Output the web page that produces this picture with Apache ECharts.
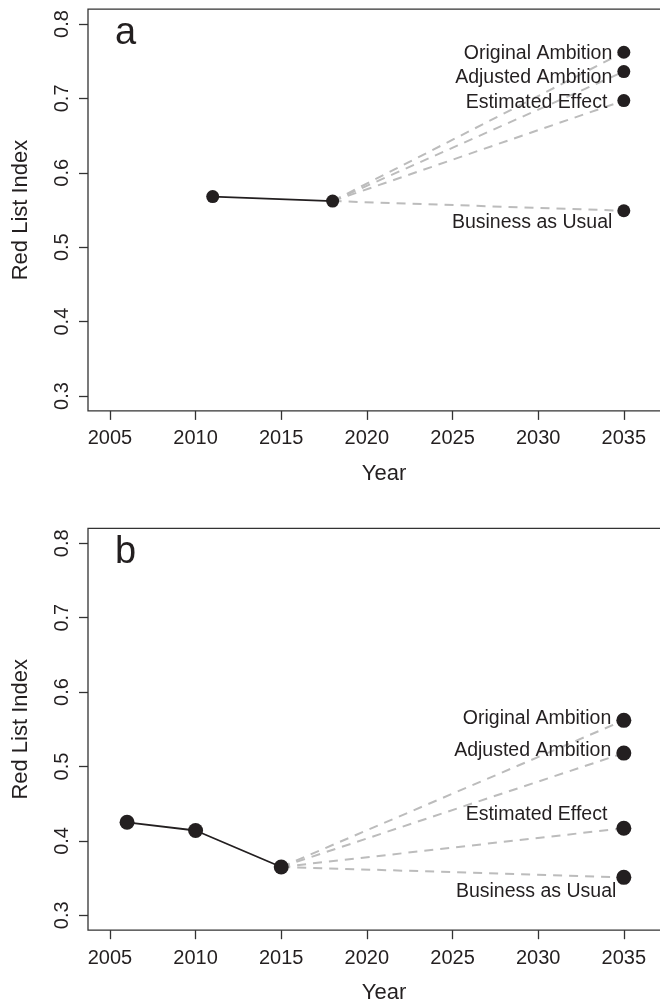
<!DOCTYPE html>
<html>
<head>
<meta charset="utf-8">
<script src="https://cdn.jsdelivr.net/npm/echarts@6/dist/echarts.min.js"></script>
<style>
  html, body { margin: 0; padding: 0; background: #ffffff; }
  #chart { width: 660px; height: 1007px; }
</style>
</head>
<body>
<div id="chart"></div>
<script>
// Tick labels
const yearTicks = [2005, 2010, 2015, 2020, 2025, 2030, 2035];
const indexTicks = [0.3, 0.4, 0.5, 0.6, 0.7, 0.8];

// Scenario projections to the target year
const scenarioNames = ['Original Ambition', 'Adjusted Ambition', 'Estimated Effect', 'Business as Usual'];
const targetYear = 2035;

// Panel a: observed Red List Index and scenario end values
const yearsA = [2011, 2018];
const rliA = [0.568, 0.562];
const scenarioA = [0.762, 0.736, 0.697, 0.549];

// Panel b: observed Red List Index and scenario end values
const yearsB = [2006, 2010, 2015];
const rliB = [0.425, 0.414, 0.365];
const scenarioB = [0.562, 0.518, 0.417, 0.351];

const INK = '#231f20';
const FONT = '"Liberation Sans", Arial, Helvetica, sans-serif';

// Axis extents (4% padding around the tick range, as in base R plots)
const X_MIN = 2003.72, X_MAX = 2038.28;
const Y_MIN = 0.28, Y_MAX = 0.82;

// Per-label nudges [dx, dy] for the scenario labels
const shiftA = [[0, 1], [0, 6], [-5, 2], [0, 12]];
const shiftB = [[0, -2], [0, -2], [-4, -14], [5, 14]];

const grids = [
  { left: 88, top: 9.1, width: 592, height: 401.8 },
  { left: 88, top: 528.4, width: 592, height: 401.8 }
].map(g => Object.assign(g, {
  outerBoundsMode: 'none', containLabel: false,
  show: true, borderColor: '#333333', borderWidth: 1.3, backgroundColor: 'transparent'
}));

function xAxisFor(i) {
  return {
    type: 'value', gridIndex: i, min: X_MIN, max: X_MAX,
    axisLine: { show: false },
    splitLine: { show: false },
    axisTick: { show: true, length: 9, customValues: yearTicks,
      lineStyle: { color: '#333333', width: 1.3 } },
    axisLabel: { customValues: yearTicks, formatter: v => String(Math.round(v)),
      fontSize: 20, color: INK, fontFamily: FONT, margin: 18 },
    name: 'Year', nameLocation: 'middle', nameGap: 52,
    nameTextStyle: { fontSize: 22, color: INK, fontFamily: FONT }
  };
}

function yAxisFor(i) {
  return {
    type: 'value', gridIndex: i, min: Y_MIN, max: Y_MAX,
    axisLine: { show: false },
    splitLine: { show: false },
    axisTick: { show: true, length: 9, customValues: indexTicks,
      lineStyle: { color: '#333333', width: 1.3 } },
    axisLabel: { customValues: indexTicks, formatter: v => v.toFixed(1), rotate: 90,
      fontSize: 20, color: INK, fontFamily: FONT, margin: 16 },
    name: 'Red List Index', nameLocation: 'middle', nameGap: 56, nameRotate: 90,
    nameTextStyle: { fontSize: 22, color: INK, fontFamily: FONT }
  };
}

function panelSeries(i, years, values, ends, dotSize, shifts) {
  const lastYear = years[years.length - 1];
  const lastVal = values[values.length - 1];
  const out = [];
  // dashed projections from the latest observation
  ends.forEach(v => {
    out.push({
      type: 'line', xAxisIndex: i, yAxisIndex: i, silent: true, z: 1,
      data: [[lastYear, lastVal], [targetYear, v]],
      symbol: 'none',
      lineStyle: { color: '#bcbcbc', width: 2, type: [9, 7] }
    });
  });
  // observed trend
  out.push({
    type: 'line', xAxisIndex: i, yAxisIndex: i, z: 3,
    data: years.map((y, k) => [y, values[k]]),
    symbol: 'circle', symbolSize: dotSize,
    itemStyle: { color: INK },
    lineStyle: { color: INK, width: 1.8 }
  });
  // scenario end points with labels
  out.push({
    type: 'scatter', xAxisIndex: i, yAxisIndex: i, z: 3,
    data: ends.map((v, k) => ({ value: [targetYear, v], label: { offset: shifts[k] } })),
    symbol: 'circle', symbolSize: dotSize,
    itemStyle: { color: INK, opacity: 1 },
    label: {
      show: true, position: 'left', distance: 5,
      formatter: p => scenarioNames[p.dataIndex],
      fontSize: 19.5, color: INK, fontFamily: FONT
    }
  });
  return out;
}

const chart = echarts.init(document.getElementById('chart'), null, { renderer: 'canvas' });
chart.setOption({
  animation: false,
  backgroundColor: '#ffffff',
  title: [
    { text: 'a', left: 110, top: 10, padding: 5,
      textStyle: { fontSize: 38, fontWeight: 'normal', color: INK, fontFamily: FONT } },
    { text: 'b', left: 110, top: 529, padding: 5,
      textStyle: { fontSize: 38, fontWeight: 'normal', color: INK, fontFamily: FONT } }
  ],
  grid: grids,
  xAxis: [xAxisFor(0), xAxisFor(1)],
  yAxis: [yAxisFor(0), yAxisFor(1)],
  series: [
    ...panelSeries(0, yearsA, rliA, scenarioA, 13, shiftA),
    ...panelSeries(1, yearsB, rliB, scenarioB, 15, shiftB)
  ]
});
</script>
</body>
</html>
